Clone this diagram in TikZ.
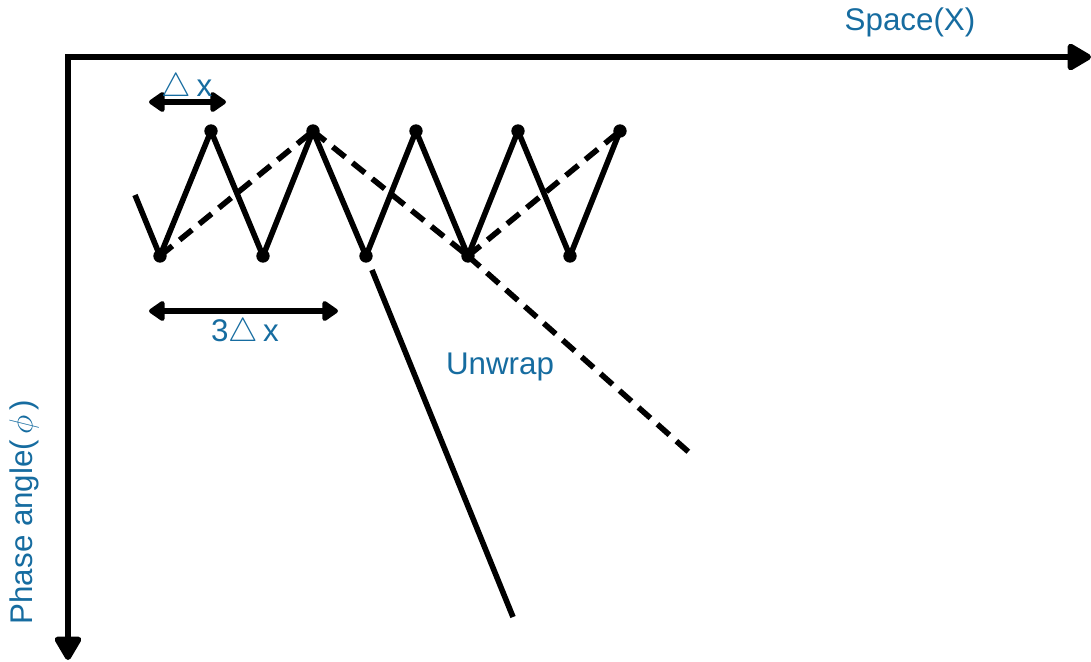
\documentclass[tikz,border=0pt]{standalone}
\usepackage{fontspec}
\setmainfont{Liberation Sans}
\usetikzlibrary{arrows.meta}
\definecolor{lab}{RGB}{22,108,160}
\tikzset{
  ax/.style={line width=4.5pt,-{Triangle[length=20pt,width=22pt,round]}},
  dbl/.style={line width=4.5pt,{Triangle[length=13pt,width=17pt,round]}-{Triangle[length=13pt,width=17pt,round]}},
  zz/.style={line width=4.2pt,line join=round},
  dsh/.style={line width=4.2pt,dash pattern=on 12pt off 7pt},
  dot/.style={circle,fill=black,inner sep=0pt,minimum size=10pt},
  lbl/.style={text=lab,font=\fontsize{23.5}{26}\selectfont,inner sep=0pt}
}
\begin{document}
\begin{tikzpicture}[x=0.75pt,y=-0.75pt]
\useasboundingbox (0,0) rectangle (1091,661);
% axes
\coordinate (O) at (68,57);
\coordinate (XE) at (1091,57);
\coordinate (YE) at (68,660);
\draw[ax,line cap=rect] (O) -- (XE);
\draw[ax] (O) -- (YE);
% vertices
\coordinate (s) at (135,195);
\foreach \n/\x in {l1/160,l2/263,l3/366,l4/468,l5/570} \coordinate (\n) at (\x,256);
\foreach \n/\x in {u1/211,u2/313,u3/416,u4/518,u5/620} \coordinate (\n) at (\x,131);
\coordinate (de) at (692,455);
\coordinate (ss) at (372,270);
\coordinate (se) at (513,617);
% zigzag
\draw[zz] (s) -- (l1) -- (u1) -- (l2) -- (u2) -- (l3) -- (u3) -- (l4) -- (u4) -- (l5) -- (u5);
% dashed envelope
\draw[dsh] (l1) -- (u2);
\draw[dsh] (u2) -- (l4);
\draw[dsh] (l4) -- (u5);
\draw[dsh] (l4) -- (de);
% unwrapped solid
\draw[zz] (ss) -- (se);
% dots
\foreach \n in {l1,l2,l3,l4,l5,u1,u2,u3,u4,u5} \node[dot] (d\n) at (\n) {};
% dimension arrows
\coordinate (a1) at (149,102);
\coordinate (a2) at (226,102);
\draw[dbl] (a1) -- (a2);
\coordinate (b1) at (149,311);
\coordinate (b2) at (338,311);
\draw[dbl] (b1) -- (b2);
% labels
\node[lbl] (tdx) at (187,88) {\(\bigtriangleup\)\,x};
\node[lbl] (t3dx) at (245,333) {3\(\bigtriangleup\)\,x};
\node[lbl] (tsp) at (910,22) {Space(X)};
\node[lbl] (tun) at (500,367) {Unwrap};
\node[lbl,rotate=90] (tph) at (24,512) {Phase angle(\,\(\phi\)\,)};
\end{tikzpicture}
\end{document}
